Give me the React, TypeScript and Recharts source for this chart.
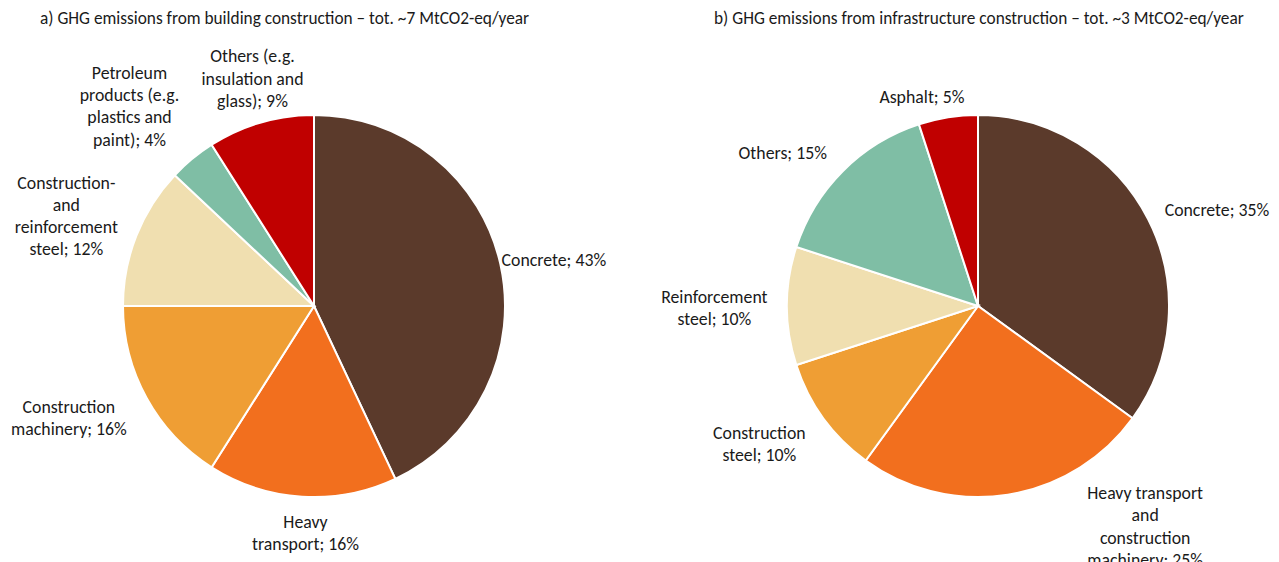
import React from 'react';
import { PieChart, Pie, Cell } from 'recharts';

// a) building construction
const buildingNames = [
  'Concrete',
  'Heavy\ntransport',
  'Construction\nmachinery',
  'Construction-\nand\nreinforcement\nsteel',
  'Petroleum\nproducts (e.g.\nplastics and\npaint)',
  'Others (e.g.\ninsulation and\nglass)',
];
const buildingValues = [43, 16, 16, 12, 4, 9];

// b) infrastructure construction
const infraNames = [
  'Concrete',
  'Heavy transport\nand\nconstruction\nmachinery',
  'Construction\nsteel',
  'Reinforcement\nsteel',
  'Others',
  'Asphalt',
];
const infraValues = [35, 25, 10, 10, 15, 5];

const buildingColors = ['#5B3A2B', '#F26F1E', '#EF9E34', '#F0DFB0', '#7FBEA5', '#C00000'];
const infraColors = ['#5B3A2B', '#F26F1E', '#EF9E34', '#F0DFB0', '#7FBEA5', '#C00000'];

const buildingData = buildingNames.map((name, i) => ({ name, value: buildingValues[i] }));
const infraData = infraNames.map((name, i) => ({ name, value: infraValues[i] }));

// small manual nudges mimicking Excel's "best fit" label placement
const buildingNudge = [[-7, -3], [4, 6], [-14, 16], [-10, -17], [-1, -2], [-6, -3]];
const infraNudge = [[9, -6], [136, -21], [-9, 21], [-12, 2], [-10, -1], [-25, -2]];

const FONT = "Carlito, Calibri, Lato, 'Open Sans', sans-serif";
const FS = 17.8;
const LH = 22.3;
const CHAR_W = 0.455 * FS;
const RAD = Math.PI / 180;

const makeLabel = (nudge: number[][]) => (props: any) => {
  const { cx, cy, midAngle, outerRadius, index, payload, value } = props;
  const dx = Math.cos(-midAngle * RAD);
  const dy = Math.sin(-midAngle * RAD);
  const r = outerRadius + 8;
  const lines = (payload.name as string).split('\n');
  lines[lines.length - 1] = `${lines[lines.length - 1]}; ${value}%`;
  const w = Math.max(...lines.map((l) => l.length)) * CHAR_W;
  const bx = cx + r * dx;
  const by = cy + r * dy;
  const x = (dx > 0.35 ? bx + w / 2 : dx < -0.35 ? bx - w / 2 : bx) + nudge[index][0];
  const h = lines.length * LH;
  let top: number;
  if (dy < -0.6) top = by - h;
  else if (dy > 0.6) top = by;
  else top = by - h / 2;
  top += nudge[index][1];
  return (
    <text x={x} y={top} textAnchor="middle" fill="#1a1a1a" fontSize={FS} fontFamily={FONT}>
      {lines.map((l, i) => (
        <tspan key={i} x={x} y={top + LH * (i + 0.5)} dy="0.35em">
          {l}
        </tspan>
      ))}
    </text>
  );
};

const titleStyle: React.CSSProperties = {
  position: 'absolute',
  top: 8,
  fontFamily: FONT,
  fontSize: 17.3,
  lineHeight: '22px',
  color: '#1a1a1a',
  whiteSpace: 'nowrap',
};

export default function App() {
  return (
    <div style={{ position: 'absolute', left: 0, top: 0, width: 1279, height: 562, background: '#fff', overflow: 'hidden' }}>
      <div style={{ ...titleStyle, left: 40 }}>
        a) GHG emissions from building construction – tot. ~7 MtCO2-eq/year
      </div>
      <div style={{ ...titleStyle, left: 714 }}>
        b) GHG emissions from infrastructure construction – tot. ~3 MtCO2-eq/year
      </div>
      <PieChart width={1279} height={562} margin={{ top: 0, right: 0, bottom: 0, left: 0 }}>
        <Pie
          data={buildingData}
          dataKey="value"
          nameKey="name"
          cx={314}
          cy={306}
          outerRadius={191}
          startAngle={90}
          endAngle={-270}
          stroke="#fff"
          strokeWidth={2}
          isAnimationActive={false}
          labelLine={false}
          label={makeLabel(buildingNudge)}
        >
          {buildingData.map((_, i) => (
            <Cell key={`b-${i}`} fill={buildingColors[i]} />
          ))}
        </Pie>
        <Pie
          data={infraData}
          dataKey="value"
          nameKey="name"
          cx={978}
          cy={306}
          outerRadius={191}
          startAngle={90}
          endAngle={-270}
          stroke="#fff"
          strokeWidth={2}
          isAnimationActive={false}
          labelLine={false}
          label={makeLabel(infraNudge)}
        >
          {infraData.map((_, i) => (
            <Cell key={`i-${i}`} fill={infraColors[i]} />
          ))}
        </Pie>
      </PieChart>
    </div>
  );
}
